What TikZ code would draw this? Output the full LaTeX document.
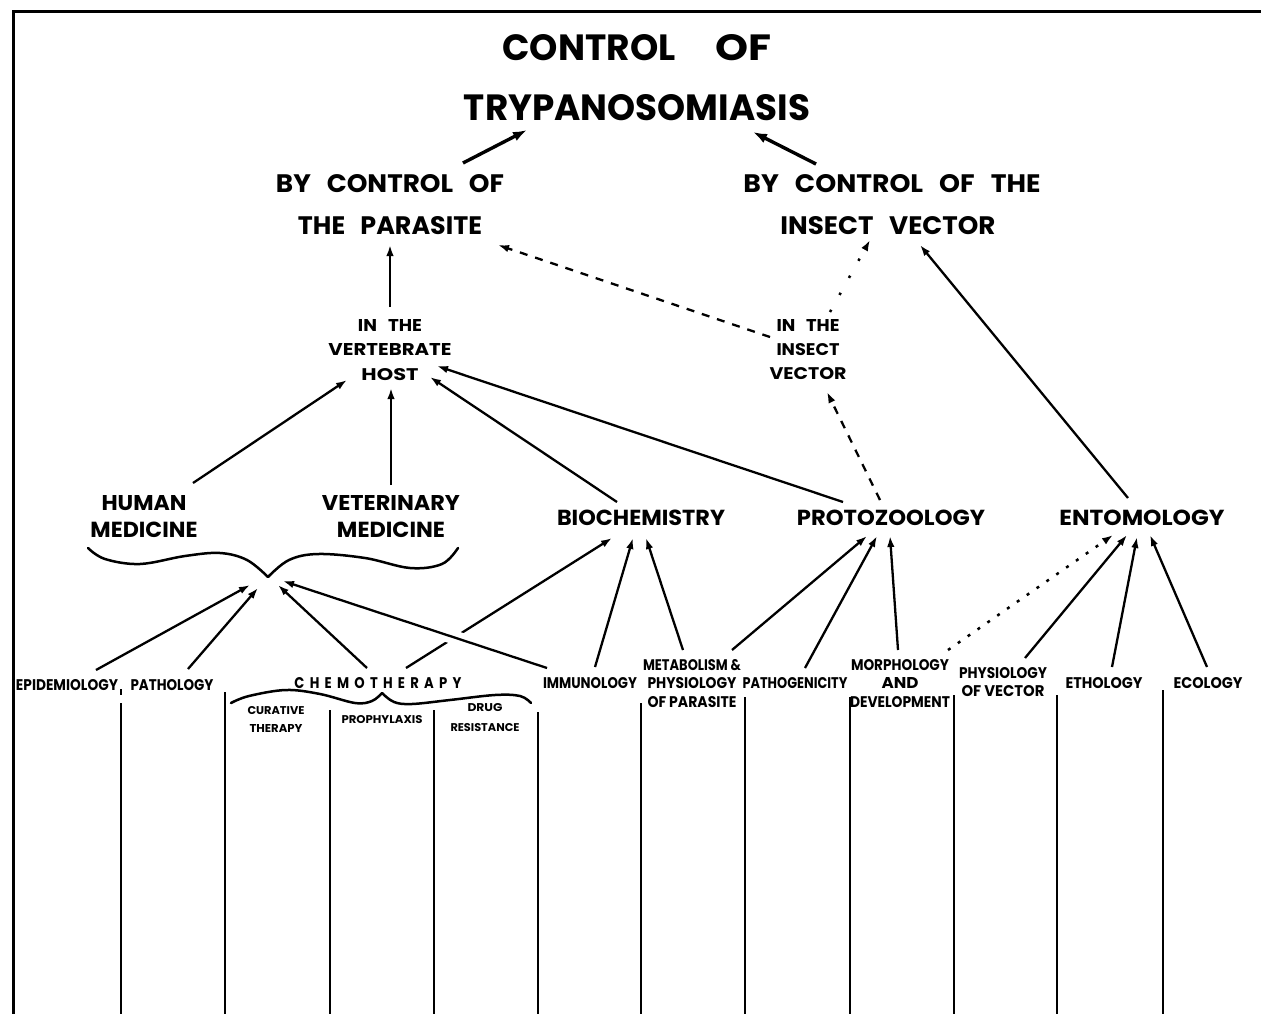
\documentclass[tikz,border=0pt]{standalone}
\usepackage{fontspec}
\setmainfont{Poppins}
\usepackage{graphicx}
\usetikzlibrary{arrows.meta}
% a label line scaled to a given width and cap height
\newcommand\lbl[3]{\resizebox{#1pt}{#2pt}{\bfseries #3}}
% wider gap between words of the headings
\newcommand\wsp{\hspace{0.6em}}
\begin{document}
\begin{tikzpicture}[x=1pt,y=-1pt,
  lab/.style={inner sep=0pt,outer sep=0pt,align=center},
  ml/.style={lab,font=\fontsize{10pt}{#1pt}\selectfont},
  arr/.style={-{Latex[length=11pt,width=7.5pt]},line width=2.3pt},
  bigarr/.style={-{Latex[length=14pt,width=10pt]},line width=3.4pt},
  dasharr/.style={arr,dash pattern=on 8pt off 8pt},
  dotarr/.style={arr,line width=2.5pt,dash pattern=on 3pt off 9pt},
  sparsearr/.style={arr,line width=2.5pt,dash pattern=on 2.5pt off 17pt},
  brace/.style={line width=2.5pt,line join=round,line cap=round},
  vline/.style={line width=2pt},
  frame/.style={line width=3pt}]
\useasboundingbox (0,0) rectangle (1261,1014);
\fill[white] (0,0) rectangle (1261,1014);

% border
\draw[frame] (1261,12) -- (13,12) -- (13,1014);

% headings
\node[ml=60] (title) at (637,78) {\lbl{173}{26}{CONTROL}\hspace{40pt}\lbl{56}{26}{OF}\\\lbl{346}{26}{TRYPANOSOMIASIS}};
\node[ml=42] (byp) at (390,205) {\lbl{228}{18}{BY\wsp CONTROL\wsp OF}\\\lbl{184}{18}{THE\wsp PARASITE}};
\node[ml=42] (byv) at (892,205) {\lbl{297}{18}{BY\wsp CONTROL\wsp OF\wsp THE}\\\hspace{-8pt}\lbl{215}{18}{INSECT\wsp VECTOR}};
\node[ml=24.5] (host) at (390,350) {\lbl{64}{12}{IN\wsp THE}\\\lbl{123}{12}{VERTEBRATE}\\\lbl{57}{12}{HOST}};
\node[ml=24] (ins) at (808,350) {\lbl{63}{12}{IN\wsp THE}\\\lbl{63}{12}{INSECT}\\\lbl{77}{12}{VECTOR}};

% disciplines
\node[ml=27] (human) at (144,516.5) {\lbl{85}{15}{HUMAN}\\\lbl{107}{15.5}{MEDICINE}};
\node[ml=27] (vet) at (391,516.5) {\lbl{138}{15}{VETERINARY}\\\lbl{108}{15.5}{MEDICINE}};
\node[lab] (bio) at (641,518) {\lbl{168}{15.5}{BIOCHEMISTRY}};
\node[lab] (proto) at (891,518) {\lbl{188}{15.5}{PROTOZOOLOGY}};
\node[lab] (ento) at (1142,518) {\lbl{165}{15.5}{ENTOMOLOGY}};

% fields of study
\node[lab] (epi) at (67,685) {\lbl{102}{11}{EPIDEMIOLOGY}};
\node[lab] (patho) at (172,685) {\lbl{83}{11}{PATHOLOGY}};
\node[lab] (chemo) at (378,683) {\lbl{167}{11}{\addfontfeature{LetterSpace=40}CHEMOTHERAPY}};
\node[ml=18] (cur) at (276,719) {\lbl{57}{8}{CURATIVE}\\\lbl{53}{8}{THERAPY}};
\node[lab] (proph) at (382,720) {\lbl{81}{8}{PROPHYLAXIS}};
\node[ml=20] (drug) at (485,718) {\lbl{35}{8}{DRUG}\\\lbl{69}{8}{RESISTANCE}};
\node[lab] (imm) at (590,683) {\lbl{94}{11}{IMMUNOLOGY}};
\node[ml=18.5] (meta) at (692,683.5) {\lbl{98}{11}{METABOLISM \&}\\\lbl{89}{11}{PHYSIOLOGY}\\\lbl{89}{11}{OF PARASITE}};
\node[lab] (pgen) at (795,683) {\lbl{105}{11}{PATHOGENICITY}};
\node[ml=18.5] (morph) at (900,683.5) {\lbl{98}{11}{MORPHOLOGY}\\\lbl{37}{11}{AND}\\\lbl{100}{11}{DEVELOPMENT}};
\node[ml=18] (pvec) at (1003,682) {\lbl{88}{11}{PHYSIOLOGY}\\\lbl{83}{11}{OF VECTOR}};
\node[lab] (etho) at (1104,683) {\lbl{77}{11}{ETHOLOGY}};
\node[lab] (eco) at (1208,683) {\lbl{69}{11}{ECOLOGY}};

% column dividers
\draw[vline] (121,689) -- (121,695);
\foreach \x/\y in {121/703,225/692,330/710,434/710,538/712,641/703,745/697,850/697,954/695,1057/695,1163/690}
  \draw[vline] (\x,\y) -- (\x,1014);

% brace grouping the two medicines
\coordinate (mtip) at (268,577);
\draw[brace] plot[smooth,tension=0.6] coordinates {(88,548) (105,559) (140,564) (185,556) (220,553) (247,560) (268,577)};
\draw[brace] plot[smooth,tension=0.6] coordinates {(268,577) (289,560) (318,554) (365,558) (410,568) (442,564) (458,548)};

% brace under chemotherapy
\draw[brace] plot[smooth,tension=0.6] coordinates {(231,703) (249,696) (286,690) (320,694) (355,703) (372,701) (382,693)};
\draw[brace] plot[smooth,tension=0.6] coordinates {(382,693) (394,702) (412,704) (450,700) (495,695) (520,696) (531,703)};

% chemotherapy to biochemistry, broken where it is crossed
\draw[arr] ([shift={(28,-15)}]chemo.center) -- ([shift={(-29,20)}]bio.center);
\draw[arr,preaction={draw=white,line width=14pt,-}] ([shift={(-43,-15)}]imm.center) -- ([shift={(15,4)}]mtip);

% into the medicine brace
\draw[arr] ([shift={(29,-15)}]epi.center) -- ([shift={(-18,8)}]mtip);
\draw[arr] ([shift={(16,-16)}]patho.center) -- ([shift={(-10,11)}]mtip);
\draw[arr] ([shift={(-11,-15)}]chemo.center) -- ([shift={(10,8)}]mtip);

% into biochemistry
\draw[arr] ([shift={(5,-16)}]imm.center) -- ([shift={(-8,20)}]bio.center);
\draw[arr] ([shift={(-9,-33.5)}]meta.center) -- ([shift={(5,20)}]bio.center);

% into protozoology
\draw[arr] ([shift={(40,-33.5)}]meta.center) -- ([shift={(-24,18)}]proto.center);
\draw[arr] ([shift={(10,-15)}]pgen.center) -- ([shift={(-14,18)}]proto.center);
\draw[arr] ([shift={(-2,-33.5)}]morph.center) -- ([shift={(-1,18)}]proto.center);

% into entomology
\draw[dotarr] ([shift={(48,-33.5)}]morph.center) -- ([shift={(-29,17)}]ento.center);
\draw[arr] ([shift={(22,-24)}]pvec.center) -- ([shift={(-15,17)}]ento.center);
\draw[arr] ([shift={(8,-16)}]etho.center) -- ([shift={(-5,19)}]ento.center);
\draw[arr] ([shift={(-1,-16)}]eco.center) -- ([shift={(8,17)}]ento.center);

% into the vertebrate host
\draw[arr] ([shift={(49,-33.5)}]human.center) -- ([shift={(-43,30)}]host.center);
\draw[arr] ([shift={(0,-31.5)}]vet.center) -- ([shift={(1,38)}]host.center);
\draw[arr] ([shift={(-24,-16)}]bio.center) -- ([shift={(40,27)}]host.center);
\draw[arr] ([shift={(-48,-16)}]proto.center) -- ([shift={(47,16)}]host.center);

% into the insect vector
\draw[dasharr] ([shift={(-11,-18)}]proto.center) -- ([shift={(19,42)}]ins.center);

% upper levels
\draw[arr,line width=2.6pt] ([shift={(0,-43)}]host.center) -- ([shift={(0,40)}]byp.center);
\draw[dasharr] ([shift={(-38,-13)}]ins.center) -- ([shift={(108,40)}]byp.center);
\draw[sparsearr] ([shift={(22,-38)}]ins.center) -- ([shift={(-22,35)}]byv.center);
\draw[arr] ([shift={(-14,-20)}]ento.center) -- ([shift={(28,40)}]byv.center);
\draw[bigarr] ([shift={(73,-42)}]byp.center) -- ([shift={(-110,52)}]title.center);
\draw[bigarr] ([shift={(-76,-41)}]byv.center) -- ([shift={(116,54)}]title.center);
\end{tikzpicture}
\end{document}
